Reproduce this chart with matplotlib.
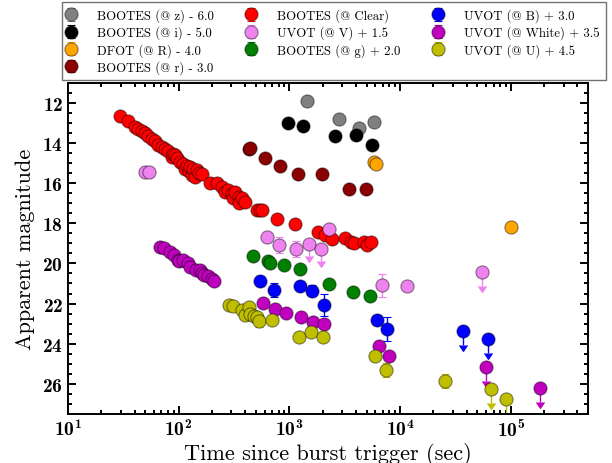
import matplotlib
matplotlib.use("Agg")
import matplotlib.pyplot as plt
import numpy as np

plt.rcParams["font.family"] = ["cmr10", "DejaVu Serif"]
plt.rcParams["mathtext.fontset"] = "cm"
plt.rcParams["axes.unicode_minus"] = False
plt.rcParams["axes.formatter.use_mathtext"] = True

# ---- data (time in s, apparent magnitude) ----
# BOOTES z - 6.0
t_z = [1445, 2790, 4240, 5800]
m_z = [11.92, 12.78, 13.24, 12.96]
e_z = [0.08, 0.08, 0.08, 0.08]
u_z = [0, 0, 0, 0]

# BOOTES i - 5.0
t_i = [966, 1318, 2610, 4040, 5600]
m_i = [13.01, 13.17, 13.64, 13.57, 14.10]
e_i = [0.08, 0.08, 0.08, 0.08, 0.08]
u_i = [0, 0, 0, 0, 0]

# DFOT R - 4.0
t_R = [5800, 6100, 100000]
m_R = [14.95, 15.03, 18.17]
e_R = [0.05, 0.05, 0.05]
u_R = [0, 0, 0]

# BOOTES r - 3.0
t_r = [428, 441, 607, 830, 1190, 1977, 3440, 4940]
m_r = [14.28, 14.23, 14.73, 15.14, 15.56, 15.56, 16.27, 16.27]
e_r = [0.05] * 8
u_r = [0] * 8

# BOOTES Clear
t_c = [29.6, 35.2, 40.4, 43.3, 46.4, 49.8, 53.4, 57.2, 61.3, 65.6, 70.4,
       75.5, 80.9, 86.7, 89.8, 93.0, 96.3, 103, 110, 115, 118, 123, 127,
       131.5, 136, 141, 146, 154, 162,
       193, 222, 246, 263, 282, 303, 313, 324, 348, 348, 373, 398,
       509, 547, 565, 774, 1132, 1803, 2120, 2430, 3210, 3570, 3870,
       4700, 5040, 5410]
m_c = [12.63, 12.91, 13.18, 13.29, 13.37, 13.50, 13.65, 13.79, 13.90, 14.07,
       14.17, 14.28, 14.40, 14.70, 14.53, 14.60, 14.73, 14.94, 15.06, 15.28,
       15.14, 15.40, 15.19, 15.60, 15.28, 15.69, 15.36, 15.47, 15.56,
       15.99, 15.97, 16.19, 16.43, 16.35, 16.52, 16.76, 16.43, 16.68, 17.01,
       16.76, 16.93,
       17.31, 17.34, 17.31, 17.76, 18.05, 18.42, 18.58, 18.80, 18.75, 18.91,
       18.96, 18.91, 19.08, 18.95]
e_c = [0.05] * len(t_c)
u_c = [0] * len(t_c)

# UVOT V + 1.5
t_V = [49.8, 54.5, 628, 800, 1147, 1497, 1932, 2285, 6890, 11600, 55400]
m_V = [15.44, 15.44, 18.68, 19.08, 19.26, 19.01, 19.29, 18.29, 21.10, 21.15,
       20.45]
e_V = [0.05, 0.05, 0.25, 0.40, 0.40, 0.6, 0.6, 0.05, 0.55, 0.20, 0.7]
u_V = [0, 0, 0, 0, 0, 1, 1, 0, 0, 0, 1]

# BOOTES g + 2.0
t_g = [466, 641, 664, 902, 1259, 2270, 3770, 5300]
m_g = [19.63, 19.87, 20.00, 20.09, 20.26, 21.03, 21.43, 21.63]
e_g = [0.05] * 8
u_g = [0] * 8

# UVOT B + 3.0
t_B = [547, 722, 1248, 1600, 2040, 6220, 7660, 37000, 62400]
m_B = [20.87, 21.31, 21.15, 21.35, 22.07, 22.83, 23.25, 23.36, 23.78]
e_B = [0.25, 0.35, 0.1, 0.25, 0.55, 0.25, 0.6, 0.7, 0.7]
u_B = [0, 0, 0, 0, 0, 0, 0, 1, 1]

# UVOT White + 3.5
t_W = [68, 73, 83.8, 90, 99.5, 101.5, 110, 121, 127, 144, 156, 162, 170,
       186, 202, 210,
       573, 747, 940, 1274, 1625, 2070, 6430, 7930, 59800, 184000]
m_W = [19.16, 19.25, 19.41, 19.58, 19.83, 19.90, 19.83, 19.99, 20.20, 20.32,
       20.32, 20.49, 20.57, 20.65, 20.77, 20.90,
       21.96, 22.29, 22.49, 22.69, 22.92, 23.00, 24.13, 24.62, 25.15, 26.21]
e_W = [0.05] * 22 + [0.1, 0.25, 0.7, 0.7]
u_W = [0] * 24 + [1, 1]

# UVOT U + 4.5
t_U = [283, 313, 373, 400, 428, 444, 476, 509, 527, 696, 1213, 1570, 2000,
       6000, 7390, 25500, 65900, 91400]
m_U = [22.09, 22.14, 22.30, 22.59, 22.17, 22.52, 22.64, 22.69, 22.89, 22.80,
       23.68, 23.41, 23.66, 24.62, 25.33, 25.88, 26.26, 26.75]
e_U = [0.05, 0.05, 0.05, 0.05, 0.05, 0.05, 0.05, 0.05, 0.3, 0.05,
       0.15, 0.05, 0.2, 0.05, 0.35, 0.35, 0.7, 0.7]
u_U = [0] * 16 + [1, 1]

series = [
    ("BOOTES (@ z) - 6.0", "gray", t_z, m_z, e_z, u_z),
    ("BOOTES (@ i) - 5.0", "black", t_i, m_i, e_i, u_i),
    ("DFOT (@ R) - 4.0", "orange", t_R, m_R, e_R, u_R),
    ("BOOTES (@ r) - 3.0", "darkred", t_r, m_r, e_r, u_r),
    ("BOOTES (@ Clear)", "red", t_c, m_c, e_c, u_c),
    ("UVOT (@ V) + 1.5", "violet", t_V, m_V, e_V, u_V),
    ("BOOTES (@ g) + 2.0", "green", t_g, m_g, e_g, u_g),
    ("UVOT (@ B) + 3.0", "blue", t_B, m_B, e_B, u_B),
    ("UVOT (@ White) + 3.5", "m", t_W, m_W, e_W, u_W),
    ("UVOT (@ U) + 4.5", "y", t_U, m_U, e_U, u_U),
]

fig = plt.figure(figsize=(6.12, 4.64), dpi=100)
ax = fig.add_axes([0.111, 0.106, 0.850, 0.713])
ax.set_xscale("log")
ax.set_xlim(10, 5e5)
ax.set_ylim(27.5, 11)  # inverted before the limit arrows are drawn

edge = (0, 0, 0, 0.45)
for label, col, t, m, e, u in series:
    t, m, e, u = map(np.asarray, (t, m, e, u))
    det = u == 0
    ax.errorbar(t[det], m[det], yerr=e[det], fmt="o", color=col, ms=9.5,
                mec=edge, mew=0.8, elinewidth=1.0, capsize=3, capthick=1.0,
                label=label)
    if (~det).any():
        ax.errorbar(t[~det], m[~det], yerr=e[~det], lolims=True, fmt="o",
                    color=col, ms=9.5, mec=edge, mew=0.8, elinewidth=1.0,
                    capsize=3)

ax.set_yticks(np.arange(12, 27, 2))
ax.set_yticks(np.arange(11, 27.6, 0.5), minor=True)
ax.tick_params(which="both", direction="in", top=True, right=True,
               width=1.4, labelsize=14, labelfontfamily="cmb10")
ax.tick_params(which="major", length=6)
ax.tick_params(which="minor", length=3)
for s in ax.spines.values():
    s.set_linewidth(1.4)

ax.set_xlabel("Time since burst trigger (sec)", fontsize=16, labelpad=1)
ax.set_ylabel("Apparent magnitude", fontsize=16, labelpad=5)

leg = fig.legend(loc="upper left", bbox_to_anchor=(62 / 612, 1 - 3 / 464),
                 ncol=3, fontsize=9.2, frameon=True, fancybox=False,
                 edgecolor="0.3", borderaxespad=0, borderpad=0.5,
                 handlelength=0.35, handletextpad=1.86, columnspacing=2.75,
                 labelspacing=0.27)
leg.get_frame().set_linewidth(1.0)

fig.savefig("out.png", dpi=100)
